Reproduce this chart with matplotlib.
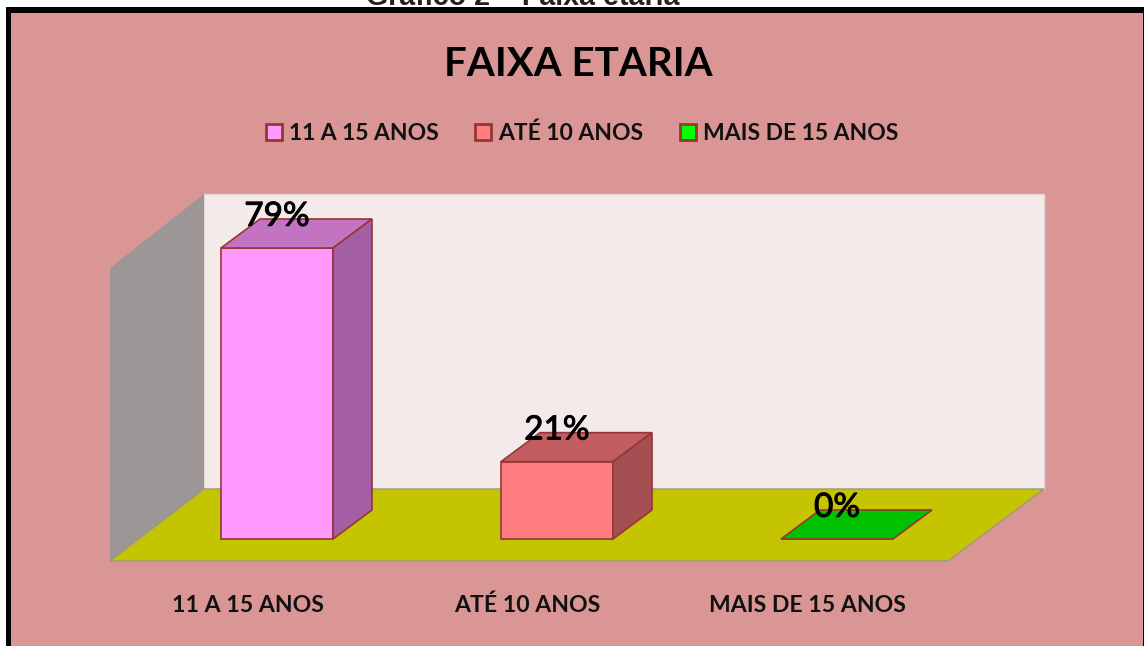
import matplotlib
matplotlib.use('Agg')
from matplotlib import pyplot as plt
from matplotlib import patheffects
from matplotlib.patches import Polygon, Patch, Rectangle

categories = ['11 A 15 ANOS', 'ATÉ 10 ANOS', 'MAIS DE 15 ANOS']
values = [79, 21, 0]
labels = ['79%', '21%', '0%']
front_colors = ['#FF99FF', '#FF7C80', '#00FF00']
top_colors = ['#C274C2', '#C25E61', '#00C200']
side_colors = ['#A45FA4', '#A44F51', '#00A400']
edge = '#953735'

W, H = 1144, 646
# one category step and one percent, in pixels of the picture
x0, step = 277, 280
y0, per_pct = 539, 291 / 79
bar_w = 112 / step
depth_x, depth_y = 39 / step, 29 / per_pct


def px(x, y):
    # picture pixels to data coordinates
    return (x - x0) / step, (y0 - y) / per_pct


def poly(ax, pts, **kw):
    ax.add_patch(Polygon([px(*p) for p in pts], closed=True, **kw))


plt.rcParams['font.family'] = ['Lato', 'DejaVu Sans']
fig = plt.figure(figsize=(W / 100, H / 100), dpi=100, facecolor='white')
ax = fig.add_axes([0, 0, 1, 1])
ax.set_xlim(px(0, 0)[0], px(W, 0)[0])
ax.set_ylim(px(0, H)[1], px(0, 0)[1])
ax.axis('off')

# frame and panel
ax.add_patch(Rectangle(px(6, H), W / step, (H - 7) / per_pct, fc='black', ec='none', zorder=0))
ax.add_patch(Rectangle(px(11, H), (W - 12) / step, (H - 13) / per_pct, fc='#D99694', ec='none', zorder=0.5))

# chart box
poly(ax, [(204, 194), (1044, 194), (1044, 489), (204, 489)], fc='#F5EAEA', ec='#E6D5D5', lw=1, zorder=1)
poly(ax, [(110, 268), (204, 194), (204, 489), (110, 561)], fc='#9C9696', ec='none', zorder=1)
poly(ax, [(110, 561), (948, 561), (1044, 489), (204, 489)], fc='#C4C400', ec='#9A9A80', lw=1, zorder=1.5)

xs = list(range(len(values)))
ax.bar(xs, values, width=bar_w, color=front_colors, edgecolor=edge, linewidth=1.2, zorder=3)
thicker = [patheffects.withStroke(linewidth=0.7, foreground='black')]
for x, v, top, side, lab in zip(xs, values, top_colors, side_colors, labels):
    l, r = x - bar_w / 2, x + bar_w / 2
    ax.add_patch(Polygon([(l, v), (l + depth_x, v + depth_y), (r + depth_x, v + depth_y), (r, v)],
                         fc=top, ec=edge, lw=1.2, zorder=3))
    if v > 0:
        ax.add_patch(Polygon([(r, v), (r + depth_x, v + depth_y), (r + depth_x, depth_y), (r, 0)],
                             fc=side, ec=edge, lw=1.2, zorder=3))
    ax.text(x, v + depth_y + 0.6, lab, ha='center', va='center', fontsize=24, color='black', zorder=4,
            path_effects=thicker)

# category labels
for x, c in zip(xs, categories):
    ax.text(x - 0.105, px(0, 605)[1], c, ha='center', va='center', fontsize=16.6, fontweight='bold', color='#111111')

ax.text(*px(578, 64), 'FAIXA ETARIA', ha='center', va='center', fontsize=29, fontweight='bold', color='black')
ax.text(*px(523, -3), 'Gráfico 2 – Faixa etária', ha='center', va='center', fontsize=20.6,
        family='Liberation Sans', fontweight='bold', color='#222222')

handles = [Patch(fc=c, ec=edge, lw=2) for c in front_colors]
ax.legend(handles, categories, ncols=3, loc='center', bbox_to_anchor=(582 / W, 1 - 133 / H),
          frameon=False, handlelength=0.7, handleheight=0.7, handletextpad=0.3, columnspacing=1.6,
          prop={'size': 16.5, 'weight': 'bold'}, labelcolor='#111111')

fig.savefig('out.png', dpi=100)
